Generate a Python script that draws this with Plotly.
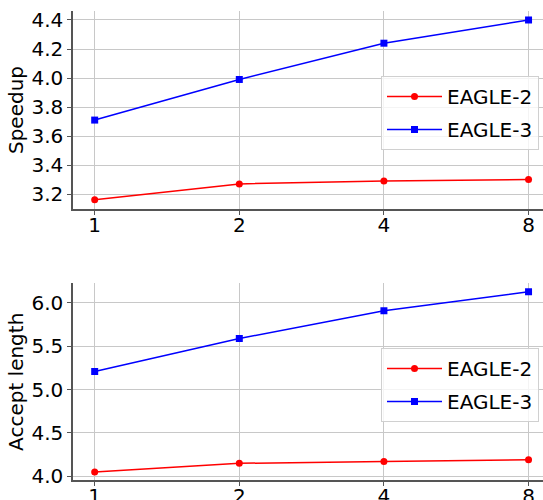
import plotly.graph_objects as go
from plotly.subplots import make_subplots

categories = ["1", "2", "4", "8"]
speedup_eagle2 = [3.16, 3.27, 3.29, 3.30]
speedup_eagle3 = [3.71, 3.99, 4.24, 4.40]
accept_eagle2 = [4.05, 4.15, 4.17, 4.19]
accept_eagle3 = [5.21, 5.59, 5.91, 6.13]
speedup_ticks = [3.2, 3.4, 3.6, 3.8, 4.0, 4.2, 4.4]
accept_ticks = [4.0, 4.5, 5.0, 5.5, 6.0]

W, H = 543, 500
FONT = "DejaVu Sans"

fig = make_subplots(rows=2, cols=1)

def add(row, y2, y3, legend):
    fig.add_trace(go.Scatter(x=categories, y=y2, name="EAGLE-2", mode="lines+markers",
                             line=dict(color="red", width=1.5),
                             marker=dict(symbol="circle", size=7, color="red"),
                             legend=legend, legendgroup=f"{legend}a"), row=row, col=1)
    fig.add_trace(go.Scatter(x=categories, y=y3, name="EAGLE-3", mode="lines+markers",
                             line=dict(color="blue", width=1.5),
                             marker=dict(symbol="square", size=7, color="blue"),
                             legend=legend, legendgroup=f"{legend}b"), row=row, col=1)

add(1, speedup_eagle2, speedup_eagle3, "legend")
add(2, accept_eagle2, accept_eagle3, "legend2")

xdom = [73 / W, 1.0]
common_x = dict(type="category", range=[-0.15, 3.1], showgrid=True, gridcolor="#c8c8c8",
                gridwidth=1, showline=True, linecolor="#555", linewidth=1.5,
                ticks="outside", ticklen=4, tickcolor="#555", automargin=False,
                ticklabelstandoff=-7,
                tickfont=dict(family=FONT, size=20, color="black"), zeroline=False,
                domain=xdom)
common_y = dict(showgrid=True, gridcolor="#c8c8c8", gridwidth=1, showline=True,
                linecolor="#555", linewidth=1.5, ticks="outside", ticklen=4, tickcolor="#555",
                automargin=False, tickfont=dict(family=FONT, size=20, color="black"),
                zeroline=False)

fig.update_xaxes(**common_x)
fig.update_yaxes(**common_y)

legend_style = dict(xanchor="right", yanchor="top", bgcolor="rgba(255,255,255,0.8)",
                    bordercolor="#d0d0d0", borderwidth=1, itemwidth=55, tracegroupgap=4,
                    font=dict(family=FONT, size=20, color="black"))

fig.update_layout(
    xaxis=dict(anchor="y"),
    xaxis2=dict(anchor="y2"),
    yaxis=dict(domain=[1 - 209 / H, 1 - 11 / H], range=[3.097, 4.462], tickvals=speedup_ticks,
               ticktext=[f"{v:.1f}" for v in speedup_ticks],
               title=dict(text="Speedup", font=dict(family=FONT, size=20, color="black"), standoff=2)),
    yaxis2=dict(domain=[1 - 480.3 / H, 1 - 283.3 / H], range=[3.954, 6.227], tickvals=accept_ticks,
                ticktext=[f"{v:.1f}" for v in accept_ticks],
                title=dict(text="Accept length", font=dict(family=FONT, size=20, color="black"), standoff=2)),
    legend=dict(x=539 / W, y=1 - 76 / H, **legend_style),
    legend2=dict(x=539 / W, y=1 - 348 / H, **legend_style),
    width=W, height=H,
    margin=dict(l=0, r=0, t=0, b=0),
    plot_bgcolor="white", paper_bgcolor="white",
    font=dict(family=FONT, size=20, color="black"),
)

fig.write_html("out.html", config={"displayModeBar": False},
               post_script="document.body.style.margin='0';document.body.style.overflow='hidden';")
